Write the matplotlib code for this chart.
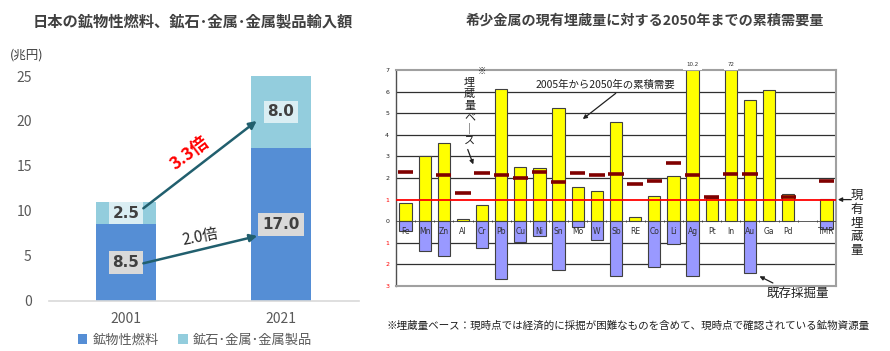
import numpy as np
import matplotlib.pyplot as plt

plt.rcParams['font.family'] = ['Noto Sans CJK JP', 'DejaVu Sans']

# left chart data (trillion yen)
years = ['2001', '2021']
fuel = [8.5, 17.0]
ore_metal = [2.5, 8.0]

# right chart data (ratio to current reserves)
metals = ['Fe', 'Mn', 'Zn', 'Al', 'Cr', 'Pb', 'Cu', 'Ni', 'Sn', 'Mo', 'W', 'Sb',
          'RE', 'Co', 'Li', 'Ag', 'Pt', 'In', 'Au', 'Ga', 'Pd', '', 'TMR']
demand = [0.82, 3.0, 3.6, 0.12, 0.75, 6.14, 2.49, 2.44, 5.26, 1.57, 1.42, 4.58,
          0.2, 1.15, 2.1, 10.2, 1.08, 7.2, 5.63, 6.06, 1.27, 0, 1.02]
mined = [-0.46, -1.39, -1.59, 0, -1.22, -2.69, -0.96, -0.68, -2.28, -0.26, -0.85, -2.53,
         0, -2.13, -1.06, -2.56, 0, 0, -2.41, 0, 0, 0, -0.34]
reserve_base = [2.28, None, 2.12, 1.31, 2.24, 2.12, 2.01, 2.27, 1.81, 2.22, 2.16, 2.19,
                1.73, 1.88, 2.7, 2.13, 1.13, 2.18, 2.18, None, 1.12, None, 1.85]
overflow = {'Ag': '10.2', 'In': '72'}

fig = plt.figure(figsize=(8.9, 3.51), dpi=100)

# ---------------- left: stacked bars ----------------
axL = fig.add_axes([48.5/890, 50.3/351, 310/890, 224.7/351])
x = np.arange(len(years))
axL.bar(x, fuel, width=0.39, color='#558ED5', label='鉱物性燃料')
axL.bar(x, ore_metal, bottom=fuel, width=0.39, color='#93CDDD', label='鉱石･金属･金属製品')
axL.set_xlim(-0.5, 1.5)
axL.set_ylim(0, 25)
for s in ['top', 'right', 'left']:
    axL.spines[s].set_visible(False)
axL.spines['bottom'].set_color('#D9D9D9')
axL.spines['bottom'].set_linewidth(1.2)
axL.set_yticks(range(0, 26, 5))
axL.set_xticks(x)
axL.set_xticklabels(years)
axL.tick_params(length=0, labelsize=10, labelcolor='#595959')
axL.tick_params(axis='y', pad=12)
axL.tick_params(axis='x', pad=8)

for i in range(len(years)):
    axL.text(x[i], fuel[i] / 2, f'{fuel[i]:.1f}', ha='center', va='center', fontsize=11,
             fontweight='bold', color='#404040', family='DejaVu Sans',
             bbox=dict(boxstyle='square,pad=0.25', fc='#D9D9D9', ec='none'))
    axL.text(x[i], fuel[i] + ore_metal[i] / 2, f'{ore_metal[i]:.1f}', ha='center', va='center',
             fontsize=11, fontweight='bold', color='#404040', family='DejaVu Sans',
             bbox=dict(boxstyle='square,pad=0.25', fc='#DAEEF3', ec='none'))

arrow_kw = dict(arrowstyle='-|>', color='#215F6E', lw=1.8, mutation_scale=11, shrinkA=0, shrinkB=0)
axL.annotate('', xy=(0.843, 20.0), xytext=(0.112, 10.28), arrowprops=arrow_kw)
axL.annotate('', xy=(0.847, 7.2), xytext=(0.112, 4.16), arrowprops=arrow_kw)
axL.text(0.413, 16.4, '3.3倍', color='#FF0000', fontsize=12.5, fontweight='bold',
         rotation=37, ha='center', va='center')
axL.text(0.477, 7.1, '2.0倍', color='#262626', fontsize=11, rotation=11,
         ha='center', va='center')

fig.text(10/890, 1 - 55/351, '(兆円)', fontsize=9, color='#404040', va='center')
fig.text(33/890, 1 - 21/351, '日本の鉱物性燃料、鉱石･金属･金属製品輸入額', fontsize=11,
         fontweight='bold', color='#404040', va='center')
fig.legend(loc='center', bbox_to_anchor=(195/890, 11/351), ncol=2, frameon=False,
           fontsize=9.5, handlelength=0.7, handleheight=0.7, handletextpad=0.4,
           columnspacing=1.5, labelcolor='#595959')

# ---------------- right: rare metals ----------------
axR = fig.add_axes([396/890, 65/351, 440/890, 216/351])
pos = np.arange(len(metals))
axR.set_xlim(-0.5, len(metals) - 0.5)
axR.set_ylim(-3, 7)

for g in [2, 3, 4, 5, 6, -1, -2]:
    axR.axhline(g, color='#303030', lw=0.9, zorder=1)

idx = [i for i in pos if demand[i] > 0]
axR.bar(idx, [demand[i] for i in idx], width=0.64, color='#FFFF00', edgecolor='#404040',
        lw=0.8, zorder=2)
idx = [i for i in pos if mined[i] < 0]
axR.bar(idx, [mined[i] for i in idx], width=0.64, color='#9999FF', edgecolor='#404040',
        lw=0.8, zorder=2)

axR.axhline(0, color='#404040', lw=0.6, zorder=3)
axR.vlines(pos[:-1] + 0.5, -0.06, 0.06, color='#404040', lw=0.6, zorder=3)
axR.axhline(1, color='#FF0000', lw=1.3, zorder=4)

for i in pos:
    if reserve_base[i] is not None:
        axR.hlines(reserve_base[i], i - 0.4, i + 0.4, color='#800000', lw=2.6, zorder=5)
    if metals[i]:
        axR.text(i, -0.5, metals[i], ha='center', va='center', fontsize=5.5,
                 color='#303030', family='DejaVu Sans', zorder=6)
    if metals[i] in overflow:
        axR.text(i, 7.25, overflow[metals[i]], ha='center', va='center', fontsize=4,
                 color='#303030', family='DejaVu Sans', clip_on=False, zorder=6,
                 bbox=dict(boxstyle='square,pad=0.6', fc='white', ec='none'))

for s in ['top', 'right', 'bottom']:
    axR.spines[s].set_color('#A0A0A0')
    axR.spines[s].set_linewidth(1.5)
axR.spines['left'].set_color('#505050')
axR.spines['left'].set_linewidth(1.0)
axR.set_xticks([])
yt = list(range(-3, 8))
axR.set_yticks(yt)
axR.set_yticklabels([str(abs(v)) for v in yt], family='DejaVu Sans')
axR.tick_params(axis='y', length=0, labelsize=4.5, pad=5)
for lab, v in zip(axR.get_yticklabels(), yt):
    lab.set_color('#FF0000' if v <= 1 and v != 0 else '#202020')

# annotations
axR.text(3.35, 5.05, '埋\n蔵\n量\nベ\n｜\nス', ha='center', va='center', fontsize=8,
         linespacing=1.18, color='#202020')
axR.text(4.0, 6.95, '※', ha='center', va='center', fontsize=6, color='#202020')
axR.annotate('', xy=(3.59, 2.51), xytext=(3.2, 3.44),
             arrowprops=dict(arrowstyle='-|>', color='#202020', lw=0.9, mutation_scale=6))
axR.text(10.45, 6.3, '2005年から2050年の累積需要', ha='center', va='center', fontsize=7.5,
         color='#202020')
axR.annotate('', xy=(9.15, 4.65), xytext=(11.1, 6.0),
             arrowprops=dict(arrowstyle='-|>', color='#202020', lw=0.9, mutation_scale=6))
fig.text(857/890, 1 - 223/351, '現\n有\n埋\n蔵\n量', ha='center', va='center', fontsize=9,
         linespacing=1.08, color='#202020')
fig.text(798/890, 1 - 293/351, '既存採掘量', ha='center', va='center', fontsize=9,
         color='#202020')
axR.annotate('', xy=(18.5, -2.55), xytext=(19.2, -2.86), annotation_clip=False,
             arrowprops=dict(arrowstyle='-|>', color='#202020', lw=0.9, mutation_scale=6,
                             shrinkA=0, shrinkB=0))
axR.annotate('', xy=(22.6, 1.0), xytext=(23.3, 1.0), annotation_clip=False,
             arrowprops=dict(arrowstyle='-|>', color='#202020', lw=0.9, mutation_scale=6,
                             shrinkA=0, shrinkB=0))

fig.text(645/890, 1 - 21/351, '希少金属の現有埋蔵量に対する2050年までの累積需要量', fontsize=10.2,
         fontweight='bold', color='#404040', ha='center', va='center')
fig.text(386/890, 1 - 326/351,
         '※埋蔵量ベース：現時点では経済的に採掘が困難なものを含めて、現時点で確認されている鉱物資源量',
         fontsize=7.6, color='#202020', va='center')

fig.savefig('out.png', dpi=100)
